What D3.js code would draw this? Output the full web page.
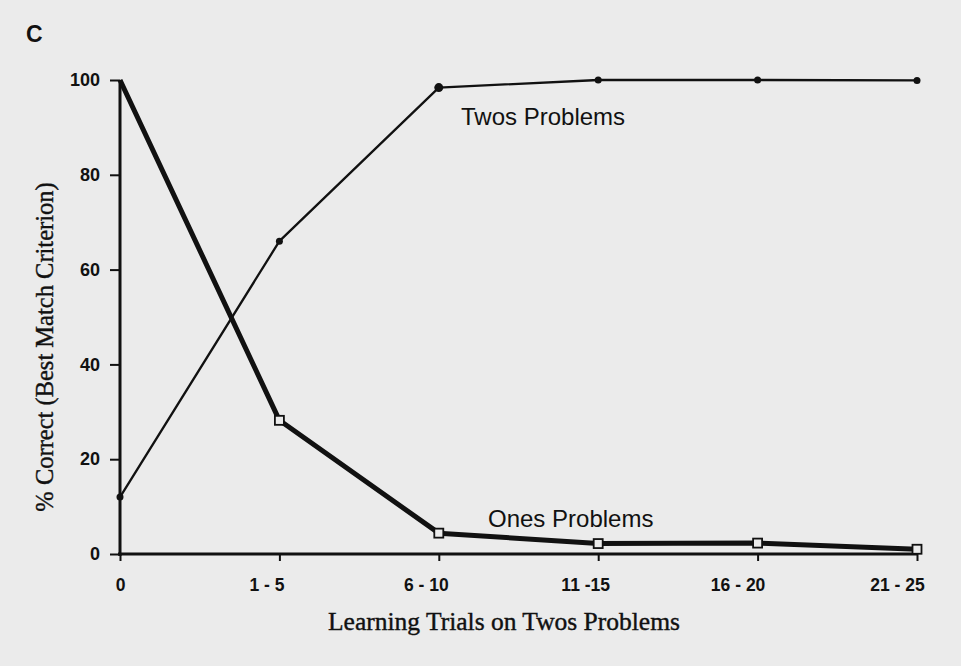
<!DOCTYPE html>
<html><head><meta charset="utf-8">
<script src="https://cdn.jsdelivr.net/npm/d3@7"></script>
<style>
html,body{margin:0;padding:0;background:#ebebeb;}
svg{display:block;}
</style></head>
<body>
<svg id="chart" width="961" height="666"></svg>
<script>
const categories = ["0", "1 - 5", "6 - 10", "11 -15", "16 - 20", "21 - 25"];
const twosValues = [12, 66, 98.4, 100, 100, 99.9];
const onesValues = [100, 28.2, 4.4, 2.2, 2.3, 1.0];
const yTicks = [0, 20, 40, 60, 80, 100];

const svg = d3.select("#chart");
svg.append("rect").attr("width", 961).attr("height", 666).attr("fill", "#ebebeb");

const x = d3.scalePoint().domain(categories).range([120, 917]);
const y = d3.scaleLinear().domain([0, 100]).range([554, 80]);

const sans = "'Liberation Sans', Arial, Helvetica, sans-serif";
const serif = "'Liberation Serif', 'Times New Roman', serif";

// Y axis
const yAxis = svg.append("g").attr("transform", "translate(120,0)")
  .call(d3.axisLeft(y).tickValues(yTicks).tickSize(10).tickPadding(10).tickFormat(d3.format("d")));
yAxis.select(".domain").attr("stroke", "#111").attr("stroke-width", 3).attr("d", "M0," + (y(0) + 2) + "V" + (y(100)));
yAxis.selectAll(".tick line").attr("stroke", "#111").attr("stroke-width", 2);
yAxis.selectAll(".tick text").attr("font-family", sans).attr("font-size", 18).attr("font-weight", "bold").attr("fill", "#111");

// X axis
const xAxis = svg.append("g").attr("transform", "translate(0,554)")
  .call(d3.axisBottom(x).tickSize(7).tickPadding(18));
xAxis.select(".domain").attr("stroke", "#111").attr("stroke-width", 3).attr("d", "M118,0H917");
xAxis.selectAll(".tick line").attr("stroke", "#111").attr("stroke-width", 2);
xAxis.selectAll(".tick text").attr("font-family", sans).attr("font-size", 17.5).attr("font-weight", "bold").attr("fill", "#111")
  .attr("dx", (d, i) => i === 0 ? 0 : (i >= 4 ? -20 : -13));

const line = d3.line().x((d, i) => x(categories[i])).y(d => y(d));

// Ones (thick)
svg.append("path").datum(onesValues).attr("d", line)
  .attr("fill", "none").attr("stroke", "#111").attr("stroke-width", 5).attr("stroke-linejoin", "round");
svg.selectAll(".onesPt").data(onesValues.slice(1)).enter().append("rect")
  .attr("x", (d, i) => x(categories[i + 1]) - 4.5).attr("y", d => y(d) - 4.5)
  .attr("width", 9).attr("height", 9)
  .attr("fill", "#ebebeb").attr("stroke", "#111").attr("stroke-width", 1.8);

// Twos (thin)
svg.append("path").datum(twosValues).attr("d", line)
  .attr("fill", "none").attr("stroke", "#111").attr("stroke-width", 2.3).attr("stroke-linejoin", "round");
svg.selectAll(".twosPt").data(twosValues).enter().append("circle")
  .attr("cx", (d, i) => x(categories[i])).attr("cy", d => y(d)).attr("r", (d, i) => i === 2 ? 4.5 : 3.5)
  .attr("fill", "#111");

// Series labels
svg.append("text").attr("x", 461).attr("y", 125).text("Twos Problems")
  .attr("font-family", sans).attr("font-size", 24).attr("fill", "#111");
svg.append("text").attr("x", 488).attr("y", 527).text("Ones Problems")
  .attr("font-family", sans).attr("font-size", 24).attr("fill", "#111");

// Panel letter
svg.append("text").attr("x", 26).attr("y", 42).text("C")
  .attr("font-family", sans).attr("font-size", 23).attr("font-weight", "bold").attr("fill", "#111");

// Axis titles
svg.append("text").attr("x", 504).attr("y", 630).attr("text-anchor", "middle")
  .text("Learning Trials on Twos Problems")
  .attr("font-family", serif).attr("font-size", 25.5).attr("fill", "#111")
  .attr("stroke", "#111").attr("stroke-width", 0.4);
svg.append("text").attr("transform", "translate(53,347) rotate(-90)").attr("text-anchor", "middle")
  .text("% Correct (Best Match Criterion)")
  .attr("font-family", serif).attr("font-size", 24.5).attr("fill", "#111")
  .attr("stroke", "#111").attr("stroke-width", 0.4);
</script>
</body></html>
